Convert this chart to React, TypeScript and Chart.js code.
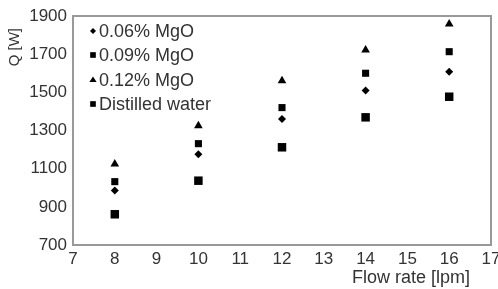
import React, { useEffect, useRef } from "react";
import { Chart, registerables } from "chart.js";

Chart.register(...registerables);

const flowRates = [8, 10, 12, 14, 16];
const mgo006 = [985, 1175, 1360, 1509, 1608];
const mgo009 = [1032, 1231, 1420, 1600, 1713];
const mgo012 = [1125, 1325, 1561, 1722, 1858];
const water = [861, 1037, 1212, 1369, 1477];

const seriesLabels = ["0.06% MgO", "0.09% MgO", "0.12% MgO", "Distilled water"];
const xTitle = "Flow rate [lpm]";
const yTitle = "Q [W]";

const FONT = "'Liberation Sans', Arial, sans-serif";

function drawMarker(ctx: CanvasRenderingContext2D, style: string, x: number, y: number, r: number) {
  ctx.beginPath();
  if (style === "rect") {
    const s = r * Math.SQRT1_2;
    ctx.rect(x - s, y - s, 2 * s, 2 * s);
  } else if (style === "rectRot") {
    ctx.moveTo(x, y - r);
    ctx.lineTo(x + r, y);
    ctx.lineTo(x, y + r);
    ctx.lineTo(x - r, y);
    ctx.closePath();
  } else {
    ctx.moveTo(x, y - r);
    ctx.lineTo(x + r * 1.04, y + r * 0.6);
    ctx.lineTo(x - r * 1.04, y + r * 0.6);
    ctx.closePath();
  }
  ctx.fill();
}

const framePlugin = {
  id: "framePlugin",
  afterDraw(chart: any) {
    const { ctx, chartArea } = chart;
    const { left, right, top, bottom } = chartArea;
    ctx.save();
    ctx.strokeStyle = "#999";
    ctx.lineWidth = 2;
    ctx.strokeRect(left, top, right - left, bottom - top);

    ctx.fillStyle = "#333";
    ctx.font = `18px ${FONT}`;
    ctx.textAlign = "right";
    ctx.textBaseline = "middle";
    ctx.fillText(xTitle, 470, 278);

    ctx.save();
    ctx.translate(15, 28);
    ctx.rotate(-Math.PI / 2);
    ctx.font = `15px ${FONT}`;
    ctx.textAlign = "right";
    ctx.textBaseline = "middle";
    ctx.fillText(yTitle, 0, 0);
    ctx.restore();

    const rowsY = [31, 55, 80, 104];
    const styles = ["rectRot", "rect", "triangle", "rect"];
    const radii = [3, 4, 3.5, 4];
    ctx.font = `18px ${FONT}`;
    ctx.textAlign = "left";
    ctx.textBaseline = "middle";
    seriesLabels.forEach((lab, i) => {
      ctx.fillStyle = "#000";
      drawMarker(ctx, styles[i], 93, rowsY[i], radii[i]);
      ctx.fillStyle = "#333";
      ctx.fillText(lab, 99, rowsY[i] + 1);
    });
    ctx.restore();
  },
};

export default function App() {
  const ref = useRef<HTMLCanvasElement | null>(null);
  useEffect(() => {
    document.body.style.margin = "0";
    const mk = (vals: number[]) => flowRates.map((x, i) => ({ x, y: vals[i] }));
    const chart = new Chart(ref.current as HTMLCanvasElement, {
      type: "scatter",
      data: {
        datasets: [
          { label: seriesLabels[0], data: mk(mgo006), pointStyle: "rectRot", pointRadius: 4, backgroundColor: "#000", borderColor: "#000", borderWidth: 0 },
          { label: seriesLabels[1], data: mk(mgo009), pointStyle: "rect", pointRadius: 5, backgroundColor: "#000", borderColor: "#000", borderWidth: 0 },
          { label: seriesLabels[2], data: mk(mgo012), pointStyle: "triangle", pointRadius: 5, backgroundColor: "#000", borderColor: "#000", borderWidth: 0 },
          { label: seriesLabels[3], data: mk(water), pointStyle: "rect", pointRadius: 6, backgroundColor: "#000", borderColor: "#000", borderWidth: 0 },
        ],
      },
      options: {
        responsive: false,
        animation: false,
        layout: { padding: { top: 16, right: 7, left: 0, bottom: 0 } },
        plugins: { legend: { display: false }, tooltip: { enabled: false } },
        scales: {
          x: {
            type: "linear",
            min: 7,
            max: 17,
            grid: { display: false, drawTicks: false },
            border: { display: false },
            ticks: { stepSize: 1, padding: 4, color: "#333", font: { family: FONT, size: 17 }, callback: (v: any) => String(v) },
            afterFit: (s: any) => {
              s.height = 44;
              s.paddingLeft = 0;
              s.paddingRight = 0;
            },
          },
          y: {
            type: "linear",
            min: 700,
            max: 1900,
            grid: { display: false, drawTicks: false },
            border: { display: false },
            ticks: { stepSize: 200, padding: 6, color: "#333", font: { family: FONT, size: 17 }, callback: (v: any) => String(v) },
            afterFit: (s: any) => {
              s.width = 73;
              s.paddingTop = 0;
              s.paddingBottom = 0;
            },
          },
        },
      },
      plugins: [framePlugin],
    } as any);
    return () => chart.destroy();
  }, []);
  return (
    <div style={{ width: 498, height: 289 }}>
      <canvas ref={ref} width={498} height={289} />
    </div>
  );
}
